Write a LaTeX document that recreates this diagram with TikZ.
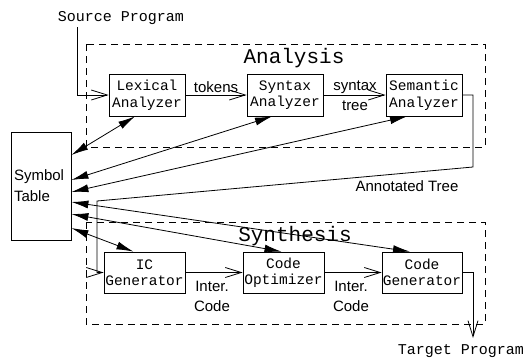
\documentclass[tikz,border=0pt]{standalone}
\usepackage{fontspec}
\setmainfont{Liberation Sans}
\setmonofont{Liberation Mono}
\usetikzlibrary{arrows.meta}

\begin{document}
\begin{tikzpicture}[x=1pt,y=-1pt,line width=0.8pt]
\tikzset{Phase/.style = {draw, rectangle, inner sep=0pt, align=center, font=\fontsize{14.5}{16.5}\selectfont\ttfamily},
  Label/.style = {inner sep=0pt, align=center, font=\fontsize{15}{20}\selectfont},
  Title/.style = {inner sep=0pt, font=\fontsize{21}{24}\selectfont\ttfamily},
  Io/.style = {inner sep=0pt, font=\fontsize{15}{18}\selectfont\ttfamily},
  Region/.style = {draw, dash pattern=on 7pt off 5pt},
  Flow/.style = {-{Straight Barb[length=16pt,width=10pt]}},
  Lookup/.style = {<->, >={Latex[length=17pt,width=8pt]}}}
\useasboundingbox (0,0) rectangle (525,360);
% the two groups of phases
\draw[Region] (86,44) rectangle (485,147);
\draw[Region] (86,222) rectangle (485,324);
\node[Title] (analysis) at (294,58) {Analysis};
\node[Title] (synthesis) at (295,236) {Synthesis};
% phases
\node[Phase, minimum width=76pt, minimum height=42pt] (lex) at (147,95) {Lexical\\Analyzer};
\node[Phase, minimum width=76pt, minimum height=42pt] (syn) at (285,95) {Syntax\\Analyzer};
\node[Phase, minimum width=76pt, minimum height=42pt] (sem) at (424,95) {Semantic\\Analyzer};
\node[Phase, minimum width=81pt, minimum height=41pt] (ic) at (144.5,272.5) {IC\\Generator};
\node[Phase, minimum width=81pt, minimum height=41pt] (copt) at (283.5,272.5) {Code\\Optimizer};
\node[Phase, minimum width=80pt, minimum height=41pt] (cgen) at (422,272.5) {Code\\Generator};
\node[draw, minimum width=60pt, minimum height=108pt, text width=54pt, inner xsep=3pt, align=left,
  font=\fontsize{15}{21}\selectfont] (symtab) at (41,186) {Symbol\\Table};
% input and output
\node[Io] (source) at (121,18) {Source Program};
\node[Io] (target) at (461,351) {Target Program};
\coordinate (srctail) at (77,27);
\coordinate (semturn) at (473,167);
\coordinate (annot) at (97,201);
\coordinate (tgttail) at (473,338);
% main flow
\draw[Flow] (srctail) |- (lex.west);
\draw[Flow] (lex) -- (syn);
\draw[Flow] (syn) -- (sem);
\draw[Flow] (sem.east) -- (semturn |- sem.east) -- (semturn) -- (annot) |- (ic.west);
\draw[Flow] (ic) -- (copt);
\draw[Flow] (copt) -- (cgen);
\draw[Flow] (cgen.east) -| (tgttail);
\node[Label] (tokens) at (216,87) {tokens};
\node[Label] (tree) at (355,96) {syntax\\tree};
\node[Label] (annottext) at (407,186) {Annotated Tree};
\node[Label] (inter1) at (212,296) {Inter.\\Code};
\node[Label] (inter2) at (351,296) {Inter.\\Code};
% symbol table lookups
\draw[Lookup] ([yshift=31pt]symtab.east) -- ([xshift=-12pt]lex.south);
\draw[Lookup] ([yshift=6pt]symtab.east) -- ([xshift=-13pt]syn.south);
\draw[Lookup] ([yshift=-6pt]symtab.east) -- ([xshift=-17pt]sem.south);
\draw[Lookup] ([yshift=-16pt]symtab.east) -- ([xshift=-12pt]cgen.north);
\draw[Lookup] ([yshift=-28pt]symtab.east) -- ([xshift=-2pt]copt.north);
\draw[Lookup] ([yshift=-42pt]symtab.east) -- ([xshift=-11pt]ic.north);
\end{tikzpicture}
\end{document}
